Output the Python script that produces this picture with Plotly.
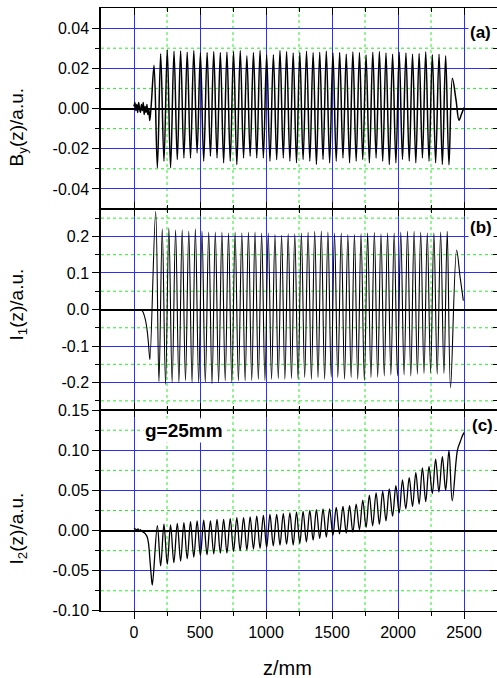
import plotly.graph_objects as go

# ---------------- data ----------------
# panel (a): B_y(z)
a_pre_z = [0, 7, 14, 21, 28, 35, 42, 49, 56, 63, 70, 77, 84, 91, 98, 105, 112, 119, 126, 133]
a_pre_v = [0.001, 0.003, -0.001, 0.002, -0.002, 0.003, 0.000, -0.002, 0.002, -0.001,
           0.003, -0.003, 0.001, -0.002, 0.002, -0.003, 0.000, -0.006, -0.002, 0.004]
a_max_z = [152, 202, 252, 303, 353, 403, 453, 503, 554, 604, 654, 704, 754, 805, 855,
           905, 955, 1005, 1056, 1106, 1156, 1206, 1256, 1307, 1357, 1407, 1457, 1507,
           1558, 1608, 1658, 1708, 1758, 1809, 1859, 1909, 1959, 2009, 2060, 2110, 2160,
           2210, 2260, 2311, 2361]
a_max_v = [0.0215, 0.0273, 0.0292, 0.0285, 0.0286, 0.0280, 0.0288, 0.0276, 0.0279, 0.0283,
           0.0279, 0.0280, 0.0283, 0.0288, 0.0262, 0.0279, 0.0288, 0.0268, 0.0268, 0.0288,
           0.0283, 0.0276, 0.0279, 0.0285, 0.0278, 0.0280, 0.0285, 0.0276, 0.0279, 0.0270,
           0.0282, 0.0278, 0.0266, 0.0280, 0.0283, 0.0276, 0.0270, 0.0280, 0.0276, 0.0270,
           0.0274, 0.0282, 0.0268, 0.0270, 0.0262]
a_min_z = [177, 227, 277, 328, 378, 428, 478, 528, 579, 629, 679, 729, 779, 830, 880,
           930, 980, 1030, 1081, 1131, 1181, 1231, 1281, 1332, 1382, 1432, 1482, 1532,
           1583, 1633, 1683, 1733, 1783, 1834, 1884, 1934, 1984, 2034, 2085, 2135, 2185,
           2235, 2285, 2336, 2386]
a_min_v = [-0.0295, -0.0262, -0.0295, -0.0254, -0.0246, -0.0246, -0.0221, -0.0262, -0.0238, -0.0246,
           -0.0270, -0.0262, -0.0279, -0.0246, -0.0238, -0.0246, -0.0246, -0.0262, -0.0254, -0.0246,
           -0.0262, -0.0270, -0.0254, -0.0262, -0.0279, -0.0254, -0.0270, -0.0262, -0.0246, -0.0270,
           -0.0262, -0.0254, -0.0270, -0.0246, -0.0262, -0.0279, -0.0270, -0.0254, -0.0262, -0.0270,
           -0.0246, -0.0262, -0.0270, -0.0279, -0.0280]
a_post_z = [2412, 2440, 2462, 2480, 2500]
a_post_v = [0.015, 0.004, -0.0058, -0.003, 0.0005]

# panel (b): I_1(z)
b_pre_z = [0, 20, 40, 58, 70, 83, 95, 103, 110, 116, 121]
b_pre_v = [0.0, 0.0, 0.0, -0.002, -0.008, -0.023, -0.045, -0.068, -0.095, -0.123, -0.137]
b_max_z = [164, 214, 264, 315, 365, 415, 465, 515, 566, 616, 666, 716, 766, 817, 867,
           917, 967, 1017, 1068, 1118, 1168, 1218, 1268, 1319, 1369, 1419, 1469, 1519,
           1570, 1620, 1670, 1720, 1770, 1821, 1871, 1921, 1971, 2021, 2072, 2122, 2172,
           2222, 2272, 2323, 2373]
b_max_v = [0.269, 0.221, 0.223, 0.218, 0.218, 0.215, 0.221, 0.215, 0.212, 0.212,
           0.212, 0.209, 0.212, 0.209, 0.212, 0.212, 0.209, 0.209, 0.205, 0.203,
           0.207, 0.207, 0.209, 0.212, 0.214, 0.215, 0.212, 0.209, 0.209, 0.205,
           0.205, 0.207, 0.209, 0.211, 0.207, 0.209, 0.209, 0.212, 0.215, 0.214,
           0.212, 0.209, 0.209, 0.212, 0.214]
b_min_z = [189, 239, 289, 340, 390, 440, 490, 540, 591, 641, 691, 741, 791, 842, 892,
           942, 992, 1042, 1093, 1143, 1193, 1243, 1293, 1344, 1394, 1444, 1494, 1544,
           1595, 1645, 1695, 1745, 1795, 1846, 1896, 1946, 1996, 2046, 2097, 2147, 2197,
           2247, 2297, 2348, 2398]
b_min_v = [-0.197, -0.205, -0.200, -0.200, -0.195, -0.200, -0.200, -0.200, -0.203, -0.200,
           -0.195, -0.200, -0.195, -0.195, -0.194, -0.191, -0.194, -0.191, -0.189, -0.191,
           -0.189, -0.191, -0.186, -0.191, -0.186, -0.191, -0.185, -0.186, -0.191, -0.186,
           -0.191, -0.194, -0.186, -0.185, -0.182, -0.179, -0.182, -0.179, -0.182, -0.177,
           -0.175, -0.173, -0.177, -0.175, -0.214]
b_post_z = [2444, 2470, 2495]
b_post_v = [0.163, 0.090, 0.0245]

# panel (c): I_2(z)
c_pre_z = [0, 10, 20, 30, 40, 50, 60, 70, 80, 90, 100, 110, 120, 130, 139]
c_pre_v = [0.003, 0.002, 0.001, 0.002, 0.000, 0.001, -0.001, -0.002, -0.003, -0.005,
           -0.008, -0.016, -0.035, -0.055, -0.068]
c_max_z = [177, 227, 277, 328, 378, 428, 478, 528, 579, 629, 679, 729, 779, 830, 880,
           930, 980, 1030, 1081, 1131, 1181, 1231, 1281, 1332, 1382, 1432, 1482, 1532,
           1583, 1633, 1683, 1733, 1783, 1834, 1884, 1934, 1984, 2034, 2085, 2135, 2185,
           2235, 2285, 2336, 2386]
c_max_v = [0.006, 0.008, 0.007, 0.009, 0.010, 0.011, 0.012, 0.013, 0.012, 0.014,
           0.014, 0.015, 0.016, 0.016, 0.017, 0.018, 0.019, 0.020, 0.020, 0.021,
           0.022, 0.023, 0.024, 0.025, 0.026, 0.027, 0.027, 0.029, 0.030, 0.031,
           0.033, 0.038, 0.044, 0.047, 0.049, 0.052, 0.056, 0.063, 0.066, 0.072,
           0.078, 0.080, 0.089, 0.092, 0.100]
c_min_z = [202, 252, 302, 353, 403, 453, 503, 553, 604, 654, 704, 754, 804, 855, 905,
           955, 1005, 1055, 1106, 1156, 1206, 1256, 1306, 1357, 1407, 1457, 1507, 1557,
           1608, 1658, 1708, 1758, 1808, 1859, 1909, 1959, 2009, 2059, 2110, 2160, 2210,
           2260, 2310, 2361, 2411]
c_min_v = [-0.044, -0.042, -0.040, -0.038, -0.035, -0.033, -0.031, -0.030, -0.029, -0.028,
           -0.028, -0.026, -0.025, -0.024, -0.023, -0.022, -0.021, -0.019, -0.018, -0.017,
           -0.018, -0.016, -0.014, -0.012, -0.010, -0.008, -0.006, -0.004, -0.003, -0.002,
           0.001, 0.004, 0.006, 0.008, 0.012, 0.018, 0.022, 0.027, 0.030, 0.033,
           0.036, 0.046, 0.048, 0.050, 0.037]
c_post_z = [2450, 2470, 2485, 2500]
c_post_v = [0.100, 0.110, 0.117, 0.122]

# axes: ticks and labels
x_ticks = [0, 500, 1000, 1500, 2000, 2500]
x_labels = ["0", "500", "1000", "1500", "2000", "2500"]
x_minor = [250, 750, 1250, 1750, 2250]
a_ticks = [-0.04, -0.02, 0.0, 0.02, 0.04]
a_labels = ["-0.04", "-0.02", "0.00", "0.02", "0.04"]
a_minor = [-0.03, -0.01, 0.01, 0.03]
b_ticks = [-0.2, -0.1, 0.0, 0.1, 0.2]
b_labels = ["-0.2", "-0.1", "0.0", "0.1", "0.2"]
b_minor = [-0.25, -0.15, -0.05, 0.05, 0.15, 0.25]
c_ticks = [-0.10, -0.05, 0.0, 0.05, 0.10, 0.15]
c_labels = ["-0.10", "-0.05", "0.00", "0.05", "0.10", "0.15"]
c_minor = [-0.075, -0.025, 0.025, 0.075, 0.125]

x_range = [-250, 2750]
a_range = [-0.05, 0.05]
b_range = [-0.275, 0.275]
c_range = [-0.1002, 0.1502]

# ---------------- figure ----------------
FONT = "Liberation Sans, Arial, sans-serif"
BLUE = "rgb(45,45,255)"
GREEN = "rgb(40,235,40)"


def build(pre_z, pre_v, mx_z, mx_v, mn_z, mn_v, post_z, post_v):
    pts = (list(zip(pre_z, pre_v)) + list(zip(mx_z, mx_v)) +
           list(zip(mn_z, mn_v)) + list(zip(post_z, post_v)))
    pts.sort(key=lambda p: p[0])
    return [p[0] for p in pts], [p[1] for p in pts]


az, av = build(a_pre_z, a_pre_v, a_max_z, a_max_v, a_min_z, a_min_v, a_post_z, a_post_v)
bz, bv = build(b_pre_z, b_pre_v, b_max_z, b_max_v, b_min_z, b_min_v, b_post_z, b_post_v)
cz, cv = build(c_pre_z, c_pre_v, c_max_z, c_max_v, c_min_z, c_min_v, c_post_z, c_post_v)

fig = go.Figure()
fig.add_trace(go.Scatter(x=az, y=av, mode="lines", xaxis="x", yaxis="y",
                         line=dict(color="black", width=1.5, shape="spline", smoothing=1.0),
                         showlegend=False))
fig.add_trace(go.Scatter(x=bz, y=bv, mode="lines", xaxis="x2", yaxis="y2",
                         line=dict(color="black", width=1.1, shape="spline", smoothing=1.0),
                         showlegend=False))
fig.add_trace(go.Scatter(x=cz, y=cv, mode="lines", xaxis="x3", yaxis="y3",
                         line=dict(color="black", width=1.3, shape="spline", smoothing=1.0),
                         showlegend=False))
# empty traces to activate the overlay (tick-only) axes
fig.add_trace(go.Scatter(x=[], y=[], xaxis="x", yaxis="y4", showlegend=False))
fig.add_trace(go.Scatter(x=[], y=[], xaxis="x2", yaxis="y5", showlegend=False))
fig.add_trace(go.Scatter(x=[], y=[], xaxis="x3", yaxis="y6", showlegend=False))
fig.add_trace(go.Scatter(x=[], y=[], xaxis="x4", yaxis="y3", showlegend=False))


def xaxis(anchor, bottom_outside):
    return dict(
        domain=[0, 1], anchor=anchor, range=x_range,
        tickmode="array", tickvals=x_ticks, ticktext=x_labels,
        showticklabels=bottom_outside,
        ticks="outside" if bottom_outside else "inside",
        ticklen=7, tickwidth=1.3, tickcolor="black",
        mirror=False if bottom_outside else "ticks",
        showline=True, linecolor="black", linewidth=1.1,
        showgrid=True, gridcolor=BLUE, gridwidth=1,
        zeroline=False,
        tickfont=dict(family=FONT, size=16, color="black"),
        minor=dict(tickmode="array", tickvals=x_minor,
                   ticks="outside" if bottom_outside else "inside",
                   ticklen=4, tickwidth=1.1, tickcolor="black", showgrid=False),
    )


def yaxis(domain, anchor, rng, tv, tt, minor):
    return dict(
        domain=domain, anchor=anchor, range=rng,
        tickmode="array", tickvals=tv, ticktext=tt,
        ticks="outside", ticklen=7, tickwidth=1.3, tickcolor="black",
        showline=True, linecolor="black", linewidth=1.5, mirror=False,
        showgrid=True, gridcolor=BLUE, gridwidth=1,
        zeroline=True, zerolinecolor="black", zerolinewidth=1.6,
        tickfont=dict(family=FONT, size=16, color="black"),
        minor=dict(tickmode="array", tickvals=minor, ticks="outside",
                   ticklen=4, tickwidth=1.1, tickcolor="black", showgrid=False),
    )


def yright(over, anchor, rng, tv, minor):
    return dict(
        overlaying=over, side="right", anchor=anchor, range=rng,
        tickmode="array", tickvals=tv, showticklabels=False,
        ticks="inside", ticklen=7, tickwidth=1.3, tickcolor="black",
        showline=False, showgrid=False, zeroline=False,
        minor=dict(tickmode="array", tickvals=minor, ticks="inside",
                   ticklen=4, tickwidth=1.1, tickcolor="black", showgrid=False),
    )


fig.update_layout(
    width=497, height=678,
    margin=dict(l=101, r=0, t=5, b=67),
    paper_bgcolor="white", plot_bgcolor="white",
    showlegend=False,
    xaxis=xaxis("y", False),
    xaxis2=xaxis("y2", False),
    xaxis3=xaxis("y3", True),
    xaxis4=dict(overlaying="x3", side="top", anchor="y3", range=x_range,
                tickmode="array", tickvals=x_ticks, showticklabels=False,
                ticks="inside", ticklen=7, tickwidth=1.3, tickcolor="black",
                showline=True, linecolor="black", linewidth=1.1,
                showgrid=False, zeroline=False,
                minor=dict(tickmode="array", tickvals=x_minor, ticks="inside",
                           ticklen=4, tickwidth=1.1, tickcolor="black", showgrid=False)),
    yaxis=yaxis([2 / 3, 1], "x", a_range, a_ticks, a_labels, a_minor),
    yaxis2=yaxis([1 / 3, 2 / 3], "x2", b_range, b_ticks, b_labels, b_minor),
    yaxis3=yaxis([0, 1 / 3], "x3", c_range, c_ticks, c_labels, c_minor),
    yaxis4=yright("y", "x", a_range, a_ticks, a_minor),
    yaxis5=yright("y2", "x2", b_range, b_ticks, b_minor),
    yaxis6=yright("y3", "x3", c_range, c_ticks, c_minor),
)

# minor (green dotted) grid lines, placed from the minor tick lists
shapes = []
for xa, ya, yminor in [("x", "y", a_minor), ("x2", "y2", b_minor), ("x3", "y3", c_minor)]:
    for v in x_minor:
        shapes.append(dict(type="line", xref=xa, yref=ya + " domain", x0=v, x1=v, y0=0, y1=1,
                           layer="below", line=dict(color=GREEN, width=1, dash="dot")))
    for v in yminor:
        shapes.append(dict(type="line", xref=xa + " domain", yref=ya, x0=0, x1=1, y0=v, y1=v,
                           layer="below", line=dict(color=GREEN, width=1, dash="dot")))
fig.update_layout(shapes=shapes)


# plot-area pixel geometry: x 101..497, y 5..611
def px_x(p):
    return (p - 101) / 396.0


def px_y(p):
    return (611 - p) / 606.0


ann = []
for txt, yc in [("B<sub>y</sub>(z)/a.u.", 125), ("I<sub>1</sub>(z)/a.u.", 303),
                ("I<sub>2</sub>(z)/a.u.", 528)]:
    ann.append(dict(text=txt, xref="paper", yref="paper", x=px_x(18), y=px_y(yc),
                    textangle=-90, showarrow=False, xanchor="center", yanchor="middle",
                    font=dict(family=FONT, size=19, color="black")))
ann.append(dict(text="z/mm", xref="paper", yref="paper", x=px_x(287), y=px_y(668),
                showarrow=False, xanchor="center", yanchor="middle",
                font=dict(family=FONT, size=20, color="black")))
ann.append(dict(text="<b>g=25mm</b>", xref="paper", yref="paper", x=px_x(184), y=px_y(430),
                showarrow=False, xanchor="center", yanchor="middle", bgcolor="white",
                font=dict(family=FONT, size=19, color="black")))
for txt, xc, yc in [("(a)", 480, 30), ("(b)", 481, 226), ("(c)", 482, 425)]:
    ann.append(dict(text="<b>" + txt + "</b>", xref="paper", yref="paper",
                    x=px_x(xc), y=px_y(yc), showarrow=False,
                    xanchor="center", yanchor="middle", bgcolor="white",
                    font=dict(family=FONT, size=17, color="black")))
fig.update_layout(annotations=ann)

fig.write_html("out.html")
